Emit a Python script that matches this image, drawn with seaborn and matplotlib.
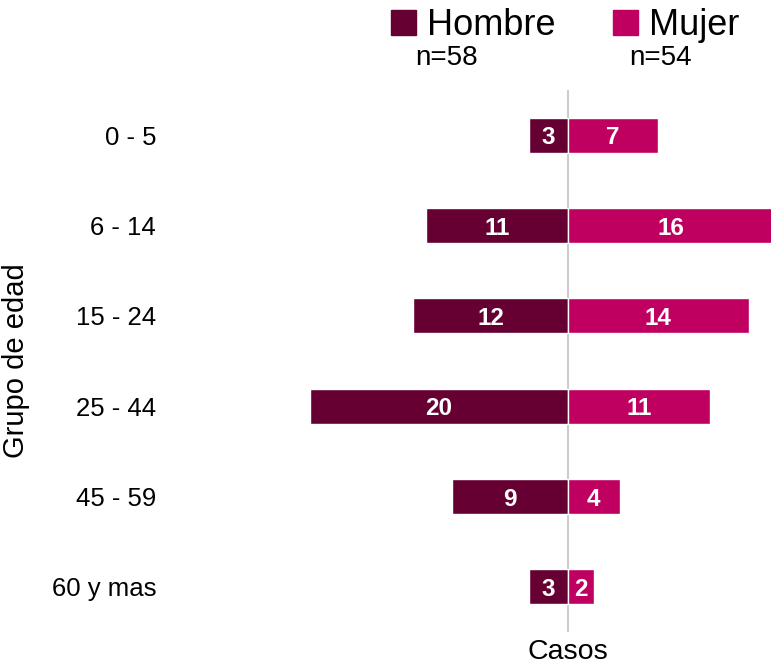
import matplotlib
matplotlib.use("Agg")
import matplotlib.pyplot as plt
import matplotlib.patches as mpatches
import pandas as pd
import seaborn as sns

GROUPS = ["0 - 5", "6 - 14", "15 - 24", "25 - 44", "45 - 59", "60 y mas"]
HOMBRE = [3, 11, 12, 20, 9, 3]
MUJER = [7, 16, 14, 11, 4, 2]
N_HOMBRE = 58
N_MUJER = 54

COLOR_H = "#660033"
COLOR_M = "#BF0060"

sns.set_theme(style="white")
plt.rcParams["font.family"] = ["Liberation Sans", "DejaVu Sans"]
plt.rcParams["text.color"] = "black"
plt.rcParams["axes.labelcolor"] = "black"
plt.rcParams["ytick.color"] = "black"

df = pd.DataFrame({"grupo": GROUPS, "hombre": [-v for v in HOMBRE], "mujer": MUJER})

fig = plt.figure(figsize=(7.71, 6.68), dpi=100)
ax = fig.add_axes([170 / 771, 1 - 632 / 668, 1 - 170 / 771, (632 - 90) / 668])

sns.barplot(data=df, y="grupo", x="hombre", color=COLOR_H, width=0.39,
            orient="h", ax=ax, saturation=1)
sns.barplot(data=df, y="grupo", x="mujer", color=COLOR_M, width=0.39,
            orient="h", ax=ax, saturation=1)

for i, (h, m) in enumerate(zip(HOMBRE, MUJER)):
    ax.text(-h / 2, i, str(h), ha="center", va="center_baseline", color="white",
            fontsize=17.5, fontweight="bold")
    ax.text(m / 2, i, str(m), ha="center", va="center_baseline", color="white",
            fontsize=17.5, fontweight="bold")

ax.axvline(0, color="#cccccc", lw=1.5, zorder=0)
ax.set_xlim(-30.85, 15.74)
ax.set_ylim(5.5, -0.5)
ax.set_xticks([])
ax.set_xlabel("Casos", fontsize=20.5)
ax.xaxis.set_label_coords((568 - 170) / 601, -0.012)
ax.set_ylabel("Grupo de edad", fontsize=21)
ax.yaxis.set_label_coords((30 - 170) / 601, 0.5)
ax.tick_params(axis="y", length=0, labelsize=18.5, pad=10)
for s in ax.spines.values():
    s.set_visible(False)

handles = [mpatches.Patch(color=COLOR_H), mpatches.Patch(color=COLOR_M)]
fig.legend(handles, ["Hombre", "Mujer"], loc="upper center",
           bbox_to_anchor=(0.733, 1.015), ncol=2, frameon=False, fontsize=26,
           handlelength=0.7, handleheight=0.7, handletextpad=0.3,
           columnspacing=1.6, borderpad=0)
fig.text(415 / 771, 1 - 58 / 668, f"n={N_HOMBRE}", fontsize=20, va="center")
fig.text(629 / 771, 1 - 58 / 668, f"n={N_MUJER}", fontsize=20, va="center")

fig.savefig("out.png", dpi=100)
